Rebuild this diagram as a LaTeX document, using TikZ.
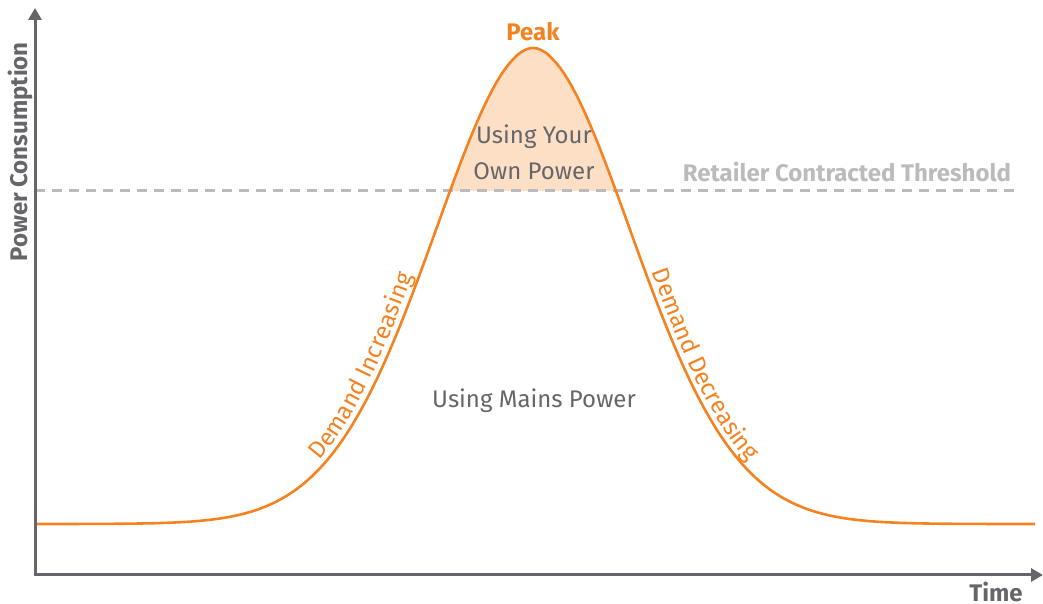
\documentclass[tikz,border=0pt]{standalone}
\usepackage{fontspec}
\setmainfont{Fira Sans}
\usetikzlibrary{arrows.meta}
\usetikzlibrary{positioning}
\usetikzlibrary{decorations.text}
\definecolor{curveorange}{HTML}{F58220}
\definecolor{peakfill}{HTML}{FDDFC6}
\definecolor{axisgray}{HTML}{656669}
\definecolor{threshgray}{HTML}{BABBBE}

\begin{document}
\begin{tikzpicture}[
          x=0.5pt, y=0.5pt,
          declare function={bell(\t)=80+476*exp(-pow((abs(\t-533)+0.01)/142.6,1.9));},
          axisline/.style = {line width=1.5pt, draw=axisgray},
          axislabel/.style = {font=\fontsize{12}{14}\selectfont\bfseries, text=axisgray, inner sep=1pt},
          demandcurve/.style = {line width=1.3pt, draw=curveorange},
          threshline/.style = {line width=1.5pt, draw=threshgray, dash pattern=on 5pt off 3.5pt},
          threshlabel/.style = {font=\fontsize{12}{14}\selectfont\bfseries, text=threshgray},
          peaklabel/.style = {font=\fontsize{12}{14}\selectfont\bfseries, text=curveorange},
          regionlabel/.style = {font=\fontsize{12}{18}\selectfont, text=axisgray, align=center},
          along/.style = {decorate, decoration={text along path, text color=curveorange, raise=3pt,
                          text={|\fontsize{12}{14}\selectfont|#1}}}
        ]
        \useasboundingbox (0,0) rectangle (1043,604);

        % Area above the threshold
        \begin{scope}
          \clip (35,413) rectangle (1043,604);
          \fill[peakfill] plot[domain=420:646, samples=80, smooth] (\x,{bell(\x)}) -- cycle;
        \end{scope}

        % Threshold
        \coordinate (thl) at (35,413);
        \coordinate (thr) at (1020,413);
        \draw[threshline] (thl) -- (thr);

        % Demand curve
        \draw[demandcurve] plot[domain=35:1035, samples=200, smooth] (\x,{bell(\x)});
        \path[along={Demand Increasing}] plot[domain=324:445, samples=30] (\x,{bell(\x)});
        \path[along={Demand Decreasing}] plot[domain=646:800, samples=30] (\x,{bell(\x)});

        % Axes
        \coordinate (origin) at (35,29);
        \coordinate (ytip) at (35,596);
        \coordinate (xtip) at (1043,29);
        \draw[axisline, {Triangle[length=6pt,width=6.5pt]}-{Triangle[length=6pt,width=6.5pt]}] (ytip) -- (origin) -- (xtip);

        % Labels
        \coordinate (top) at (533,556);
        \node[peaklabel, above=0pt of top] (peak) {Peak};
        \node[regionlabel] (ownpower) at (534,452) {Using Your\\Own Power};
        \node[regionlabel] (mains) at (534,203) {Using Mains Power};
        \node[threshlabel, anchor=east] (retailer) at (1018,432) {Retailer Contracted Threshold};
        \node[axislabel, rotate=90] (ylabel) at (20,452) {Power Consumption};
        \node[axislabel] (xlabel) at (996,12) {Time};

      \end{tikzpicture}
\end{document}
